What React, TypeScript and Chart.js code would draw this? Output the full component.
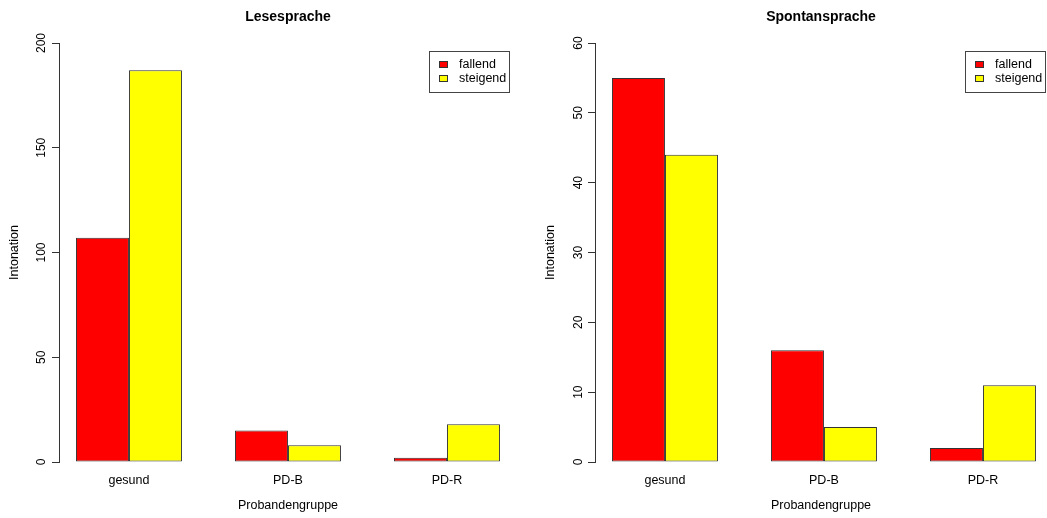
import React, { useEffect, useRef } from "react";
import { Chart, registerables } from "chart.js";

Chart.register(...registerables);

// ---- data ----
const categories = ["gesund", "PD-B", "PD-R"];
const seriesNames = ["fallend", "steigend"];
const leseFallend = [107, 15, 2];
const leseSteigend = [187, 8, 18];
const spontanFallend = [55, 16, 2];
const spontanSteigend = [44, 5, 11];
const leseYTicks = [0, 50, 100, 150, 200];
const spontanYTicks = [0, 10, 20, 30, 40, 50, 60];

const FONT = "'Liberation Sans', Arial, Helvetica, sans-serif";
const RED = "#FF0000";
const YELLOW = "#FFFF00";
const EDGE = "#333333";

// R barplot(beside=TRUE) layout: bars of width 1, two per group, one gap between groups
const groupCenter = (i: number) => 2 + 3 * i;
const X_MIN = 0.68;
const X_MAX = 9.32;
const PX_PER_UNIT = 53;

const rLegend = {
  id: "rLegend",
  afterDatasetsDraw(chart: any) {
    const { ctx, chartArea, scales } = chart;
    const right = scales.x.getPixelForValue(X_MAX) - 8;
    const top = chartArea.top + 8;
    ctx.save();
    ctx.font = `12.5px ${FONT}`;
    const ds = chart.data.datasets;
    const tw = Math.max(...ds.map((d: any) => ctx.measureText(d.label).width));
    const w = Math.round(30 + tw + 3);
    const h = 41;
    const left = Math.round(right - w);
    ctx.fillStyle = "#ffffff";
    ctx.fillRect(left, top, w, h);
    ctx.strokeStyle = "#444444";
    ctx.lineWidth = 1;
    ctx.strokeRect(left + 0.5, Math.round(top) + 0.5, w, h);
    ds.forEach((d: any, i: number) => {
      const cy = Math.round(top + 13 + i * 14);
      ctx.fillStyle = d.backgroundColor;
      ctx.fillRect(left + 10, cy - 3, 9, 7);
      ctx.strokeStyle = EDGE;
      ctx.strokeRect(left + 10.5, cy - 2.5, 8, 6);
      ctx.fillStyle = "#000000";
      ctx.textAlign = "left";
      ctx.textBaseline = "middle";
      ctx.fillText(d.label, left + 30, cy + 1);
    });
    ctx.restore();
  },
};

type PanelProps = {
  title: string;
  fallend: number[];
  steigend: number[];
  yTicks: number[];
  left: number;
  width: number;
  axisWidth: number;
  padRight: number;
  tickPad: number;
  yTitlePad: number;
};

function Panel(p: PanelProps) {
  const ref = useRef<HTMLCanvasElement | null>(null);
  useEffect(() => {
    if (!ref.current) return;
    const areaWidth = p.width - p.axisWidth - p.padRight;
    const xMax = X_MIN + areaWidth / PX_PER_UNIT;
    const yMax = p.yTicks[p.yTicks.length - 1];
    const mk = (vals: number[]) => vals.map((v, i) => ({ x: groupCenter(i), y: v }));
    const chart = new Chart(ref.current, {
      type: "bar",
      data: {
        datasets: [
          {
            label: seriesNames[0],
            data: mk(p.fallend),
            backgroundColor: RED,
            borderColor: EDGE,
            borderWidth: 1,
            borderSkipped: false,
            categoryPercentage: 2 / 3,
            barPercentage: 1,
          },
          {
            label: seriesNames[1],
            data: mk(p.steigend),
            backgroundColor: YELLOW,
            borderColor: EDGE,
            borderWidth: 1,
            borderSkipped: false,
            categoryPercentage: 2 / 3,
            barPercentage: 1,
          },
        ],
      } as any,
      options: {
        responsive: false,
        animation: false,
        layout: { padding: { left: 0, right: p.padRight, top: 0, bottom: 0 } },
        plugins: {
          legend: { display: false },
          tooltip: { enabled: false },
          title: {
            display: true,
            text: p.title,
            fullSize: false,
            color: "#000",
            font: { size: 14, weight: "bold", family: FONT },
            padding: { top: 8.6, bottom: 17.6 },
          },
        },
        scales: {
          x: {
            type: "linear",
            offset: false,
            grace: 0,
            min: X_MIN,
            max: xMax,
            afterBuildTicks: (s: any) => {
              s.ticks = categories.map((_, i) => ({ value: groupCenter(i) }));
            },
            afterFit: (s: any) => {
              s.height = 56;
            },
            ticks: {
              autoSkip: false,
              maxRotation: 0,
              padding: 11,
              color: "#000",
              font: { size: 12.5, family: FONT },
              callback: (_v: any, i: number) => categories[i],
            },
            grid: { display: false, drawTicks: false, offset: false },
            border: { display: false },
            title: {
              display: true,
              text: "Probandengruppe",
              color: "#000",
              font: { size: 12.5, family: FONT },
              padding: { top: 0, bottom: 4.5 },
            },
          },
          y: {
            min: 0,
            max: yMax,
            afterBuildTicks: (s: any) => {
              s.ticks = p.yTicks.map((v) => ({ value: v }));
            },
            afterFit: (s: any) => {
              s.width = p.axisWidth;
            },
            ticks: {
              minRotation: 90,
              maxRotation: 90,
              crossAlign: "center",
              padding: p.tickPad,
              color: "#000",
              font: { size: 12, family: FONT },
            },
            grid: {
              display: true,
              drawOnChartArea: false,
              drawTicks: true,
              tickLength: 7,
              color: EDGE,
            },
            border: { display: true, color: EDGE },
            title: {
              display: true,
              text: "Intonation",
              color: "#000",
              font: { size: 12.5, family: FONT },
              padding: { top: p.yTitlePad, bottom: 0 },
            },
          },
        },
      } as any,
      plugins: [rLegend],
    });
    return () => chart.destroy();
  }, []);
  return (
    <canvas
      ref={ref}
      width={p.width}
      height={518}
      style={{ position: "absolute", left: p.left, top: 0, width: p.width, height: 518, display: "block" }}
    />
  );
}

export default function App() {
  return (
    <div style={{ position: "absolute", left: 0, top: 0, width: 1047, height: 518, background: "#fff", overflow: "hidden" }}>
      <Panel
        title="Lesesprache"
        fallend={leseFallend}
        steigend={leseSteigend}
        yTicks={leseYTicks}
        left={0}
        width={531}
        axisWidth={59}
        padRight={14}
        tickPad={0}
        yTitlePad={7.5}
      />
      <Panel
        title="Spontansprache"
        fallend={spontanFallend}
        steigend={spontanSteigend}
        yTicks={spontanYTicks}
        left={531}
        width={516}
        axisWidth={64}
        padRight={0}
        tickPad={3}
        yTitlePad={12.5}
      />
    </div>
  );
}
